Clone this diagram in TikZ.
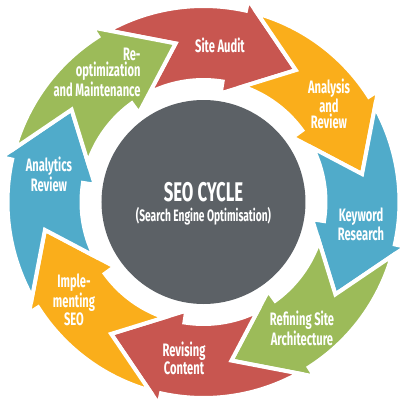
\documentclass[tikz,border=0pt]{standalone}
\usepackage{fontspec}
\setmainfont{Fira Sans}[FakeStretch=0.62]
\definecolor{seored}{RGB}{200,86,80}
\definecolor{seoorange}{RGB}{250,174,27}
\definecolor{seoblue}{RGB}{80,171,202}
\definecolor{seogreen}{RGB}{156,187,89}
\definecolor{seogray}{RGB}{92,97,102}
% one curved arrow of the ring: #1 = angle of its tip, #2 = colour
\newcommand{\seoarrow}[2]{%
  \filldraw[fill=#2, draw=white, line width=4pt]
    (#1+64:196) arc[start angle=#1+64, end angle=#1+22.5, radius=196]
    -- (#1+22.5:207) -- (#1:161) -- (#1+26:110) -- (#1+26:122)
    arc[start angle=#1+26, end angle=#1+61.2, radius=122]
    -- (#1+45:161) -- cycle;}

\begin{document}
\begin{tikzpicture}[x=1pt, y=1pt,
  every node/.style={text=white, font=\bfseries\fontsize{18}{16.5}\selectfont, align=center},
  title/.style={font=\bfseries\fontsize{27}{28}\selectfont},
  subtitle/.style={font=\bfseries\fontsize{16.5}{17}\selectfont}]
  \useasboundingbox (-203.5,-206) rectangle (204.5,202);
  % the ring of arrows
  \seoarrow{55}{seored}
  \seoarrow{10}{seoorange}
  \seoarrow{-35}{seoblue}
  \seoarrow{-80}{seogreen}
  \seoarrow{-125}{seored}
  \seoarrow{-170}{seoorange}
  \seoarrow{145}{seoblue}
  \seoarrow{100}{seogreen}
  % the middle
  \fill[seogray] (0,0) circle[radius=102];
  \node[title] (seo) at (0,10) {SEO CYCLE};
  \node[subtitle] (sub) at (0,-14) {(Search Engine Optimisation)};
  % the steps
  \node (audit) at (16.5,157) {Site Audit};
  \node[anchor=east, align=right] (reopt) at (-59.5,130) {Re-\\optimization\\and Maintenance};
  \node (analysis) at (125.5,98) {Analysis\\and\\Review};
  \node (keyword) at (157.5,-22) {Keyword\\Research};
  \node (refining) at (98.5,-126.5) {Refining Site\\Architecture};
  \node (revising) at (-19.5,-156.5) {Revising\\Content};
  \node (implementing) at (-129.5,-98) {Imple-\\menting\\SEO};
  \node (analytics) at (-154.5,27.5) {Analytics\\Review};
\end{tikzpicture}
\end{document}
